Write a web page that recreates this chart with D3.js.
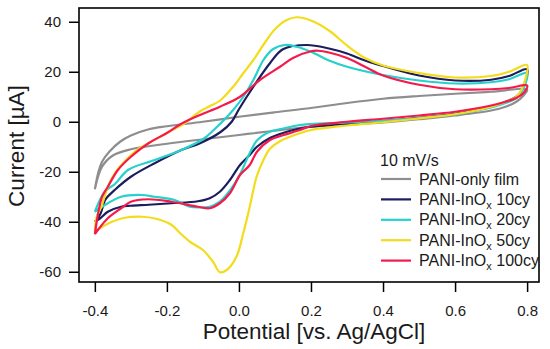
<!DOCTYPE html>
<meta charset="utf-8">
<style>
  body { margin: 0; background: #fff; }
  svg { font-family: "Liberation Sans", Arial, sans-serif; }
  .axis path, .axis line { stroke: #000; stroke-width: 1.5; }
  .axis text { font-size: 15px; fill: #1a1a1a; }
  .title { font-size: 22.5px; fill: #1a1a1a; }
  .legend text { font-size: 16px; fill: #1a1a1a; }
</style>
<body>
<svg width="550" height="349"></svg>
<script src="https://d3js.org/d3.v7.min.js"></script>
<script>

// potential (V) vs current (uA); fwd = -0.4 -> 0.8, rev = 0.8 -> -0.4
var paniFwd = [[-0.4,-27],[-0.39,-20],[-0.38,-16],[-0.36,-12],[-0.33,-8],[-0.3,-5.5],[-0.25,-3],[-0.2,-1.8],
  [-0.1,0],[0,2],[0.1,3.8],[0.2,5.5],[0.3,7.5],[0.4,9.2],[0.5,10.3],[0.6,11.2],[0.7,12],[0.8,12.8]];
var paniRev = [[0.79,10.5],[0.77,8],[0.74,6],[0.7,4.5],[0.6,2.5],[0.5,1],[0.4,-0.3],[0.3,-1.2],[0.2,-2],
  [0.1,-3.6],[0,-5.3],[-0.1,-7],[-0.2,-8.8],[-0.3,-11],[-0.35,-13.5],[-0.38,-18],[-0.4,-27]];

var cy10Fwd = [[-0.4,-40],[-0.385,-37],[-0.37,-31],[-0.345,-27.3],[-0.3,-22],[-0.234,-16.6],[-0.16,-11.3],
  [-0.108,-8.6],[-0.05,-4],[-0.02,0],[0,5],[0.04,14],[0.086,23.4],[0.122,29],[0.188,30.7],[0.25,29.3],
  [0.3,27.3],[0.35,24.5],[0.4,22.3],[0.5,18.5],[0.6,16.5],[0.7,16.8],[0.75,18.3],[0.8,21]];
var cy10Rev = [[0.795,16],[0.785,12.5],[0.77,10],[0.74,8],[0.7,6],[0.6,3.2],[0.5,1.6],[0.4,0.3],[0.3,-0.9],
  [0.2,-2],[0.169,-2.7],[0.12,-4.6],[0.086,-6.5],[0.05,-10],[0.03,-13.3],[0.003,-17.3],[-0.025,-23.3],
  [-0.053,-28],[-0.081,-30.6],[-0.114,-31.8],[-0.188,-32.6],[-0.25,-33.2],[-0.3,-33.6],[-0.327,-34],
  [-0.364,-36],[-0.385,-38.6],[-0.4,-40]];

var cy20Fwd = [[-0.4,-36],[-0.385,-31],[-0.37,-27.5],[-0.345,-25],[-0.308,-19.3],[-0.234,-15.3],[-0.16,-11.3],
  [-0.1,-7],[-0.07,-3.3],[-0.016,4.7],[0.012,10],[0.04,16.7],[0.068,24.7],[0.094,29],[0.128,30.7],
  [0.16,30],[0.2,28],[0.25,24.5],[0.3,22],[0.4,18.7],[0.5,16.5],[0.6,15.3],[0.7,15.8],[0.75,17],[0.8,19.5]];
var cy20Rev = [[0.795,15],[0.785,12],[0.77,9.5],[0.74,7.5],[0.7,5.7],[0.6,3],[0.5,1.5],[0.4,0.4],[0.3,-0.3],
  [0.2,-0.9],[0.169,-1.3],[0.12,-2.8],[0.086,-4],[0.05,-7.5],[0.03,-12.5],[0.003,-21],[-0.025,-27.5],
  [-0.053,-32],[-0.081,-34],[-0.108,-34.3],[-0.136,-34],[-0.179,-31.3],[-0.234,-30],[-0.271,-29.3],
  [-0.327,-30],[-0.364,-32.6],[-0.385,-34.5],[-0.4,-36]];

var cy50Fwd = [[-0.4,-44],[-0.395,-38],[-0.382,-34],[-0.364,-26],[-0.342,-20],[-0.322,-16.6],[-0.283,-11.3],
  [-0.25,-8.5],[-0.2,-4.5],[-0.15,-0.5],[-0.108,4.2],[-0.08,6.3],[-0.053,8.4],[-0.016,14],[0.012,19.4],
  [0.04,24.7],[0.077,32.7],[0.1,37],[0.13,40.5],[0.16,41.8],[0.2,40.5],[0.25,36.5],[0.3,30.5],[0.35,25.5],
  [0.4,22.5],[0.5,19.5],[0.6,17.7],[0.7,18.3],[0.75,20],[0.8,22.7]];
var cy50Rev = [[0.795,17],[0.785,13],[0.77,10],[0.74,8],[0.7,6],[0.6,3],[0.5,1.3],[0.4,-0.2],[0.3,-1.5],
  [0.2,-3.3],[0.169,-4.6],[0.114,-7.8],[0.086,-10.8],[0.068,-15.3],[0.049,-22],[0.03,-34],[0.012,-44.6],
  [-0.007,-54],[-0.034,-59.3],[-0.053,-60.2],[-0.072,-56],[-0.1,-51.3],[-0.136,-48],[-0.16,-45],
  [-0.19,-41],[-0.23,-38.8],[-0.27,-38],[-0.32,-38.5],[-0.36,-40.5],[-0.385,-42.5],[-0.4,-44]];

var cy100Fwd = [[-0.4,-45],[-0.39,-36],[-0.38,-30],[-0.364,-26],[-0.336,-19.3],[-0.3,-14],[-0.25,-8.5],
  [-0.2,-4.5],[-0.16,-0.8],[-0.108,2.7],[-0.053,6],[0.003,10],[0.058,16.7],[0.114,22],[0.15,25.5],
  [0.2,28.2],[0.22,28.4],[0.25,27.7],[0.3,25.5],[0.35,22],[0.4,18.5],[0.5,14.8],[0.6,13],[0.7,13],
  [0.75,13.5],[0.8,14.5]];
var cy100Rev = [[0.79,11.5],[0.77,9.5],[0.74,8],[0.7,6.5],[0.6,4],[0.5,2.5],[0.4,1.2],[0.3,0],[0.2,-1.7],
  [0.169,-3.3],[0.12,-5.5],[0.086,-7.3],[0.05,-12],[0.03,-17.3],[0.003,-21.3],[-0.025,-28.6],[-0.053,-32.6],
  [-0.081,-34.6],[-0.114,-34],[-0.188,-32],[-0.253,-31],[-0.3,-32],[-0.327,-34.6],[-0.364,-38.6],
  [-0.39,-43],[-0.4,-45]];

var seriesNames = ["PANI-only film", "PANI-InO|x| 10cy", "PANI-InO|x| 20cy", "PANI-InO|x| 50cy", "PANI-InO|x| 100cy"];
var seriesColors = ["#8e8e8e", "#1b1d5c", "#26d0cc", "#f3dc1c", "#f51a4c"];
var seriesData = [paniFwd.concat(paniRev), cy10Fwd.concat(cy10Rev), cy20Fwd.concat(cy20Rev),
  cy50Fwd.concat(cy50Rev), cy100Fwd.concat(cy100Rev)];

var xTicks = [-0.4, -0.2, 0.0, 0.2, 0.4, 0.6, 0.8];
var yTicks = [-60, -40, -20, 0, 20, 40];

var svg = d3.select("svg");
var plotL = 79, plotR = 539, plotT = 8, plotB = 282;

var x = d3.scaleLinear().domain([-0.444, 0.833]).range([plotL, plotR]);
var y = d3.scaleLinear().domain([-64.1, 45.5]).range([plotB, plotT]);

var line = d3.line()
    .x(function(d) { return x(d[0]); })
    .y(function(d) { return y(d[1]); })
    .curve(d3.curveCatmullRom.alpha(0.5));

svg.append("g").selectAll("path")
    .data(seriesData)
  .enter().append("path")
    .attr("d", line)
    .attr("fill", "none")
    .attr("stroke", function(d, i) { return seriesColors[i]; })
    .attr("stroke-width", 2.2)
    .attr("stroke-linejoin", "round");

// frame
svg.append("rect")
    .attr("x", plotL).attr("y", plotT)
    .attr("width", plotR - plotL).attr("height", plotB - plotT)
    .attr("fill", "none").attr("stroke", "#000").attr("stroke-width", 1.6);

var fmt = d3.format(".1f");
svg.append("g")
    .attr("class", "axis")
    .attr("transform", "translate(0," + plotB + ")")
    .call(d3.axisBottom(x).tickValues(xTicks).tickSize(10).tickPadding(13)
      .tickFormat(function(d) { return fmt(d).replace("\u2212", "-"); }))
    .call(function(g) { g.select(".domain").remove(); });

svg.append("g")
    .attr("class", "axis")
    .attr("transform", "translate(" + plotL + ",0)")
    .call(d3.axisLeft(y).tickValues(yTicks).tickSize(10).tickPadding(8)
      .tickFormat(function(d) { return String(d); }))
    .call(function(g) { g.select(".domain").remove(); });

svg.append("text")
    .attr("class", "title")
    .attr("text-anchor", "middle")
    .attr("transform", "translate(24,146) rotate(-90)")
    .text("Current [\u00b5A]");

svg.append("text")
    .attr("class", "title")
    .attr("text-anchor", "middle")
    .attr("x", 314).attr("y", 339)
    .text("Potential [vs. Ag/AgCl]");

// legend
var legend = svg.append("g").attr("class", "legend");
legend.append("text").attr("x", 380).attr("y", 166).text("10 mV/s");

var rows = legend.selectAll("g.row")
    .data(seriesNames)
  .enter().append("g")
    .attr("class", "row")
    .attr("transform", function(d, i) { return "translate(0," + (179 + i * 20.4) + ")"; });

rows.append("line")
    .attr("x1", 381).attr("x2", 411)
    .attr("stroke", function(d, i) { return seriesColors[i]; })
    .attr("stroke-width", 2.2);

rows.append("text")
    .attr("x", 419).attr("y", 5.5)
    .each(function(d) {
      var parts = d.split("|");
      var t = d3.select(this);
      t.append("tspan").text(parts[0]);
      if (parts.length > 1) {
        t.append("tspan").attr("font-size", "11px").attr("dy", 4).text(parts[1]);
        t.append("tspan").attr("dy", -4).text(parts[2]);
      }
    });

</script>
</body>
